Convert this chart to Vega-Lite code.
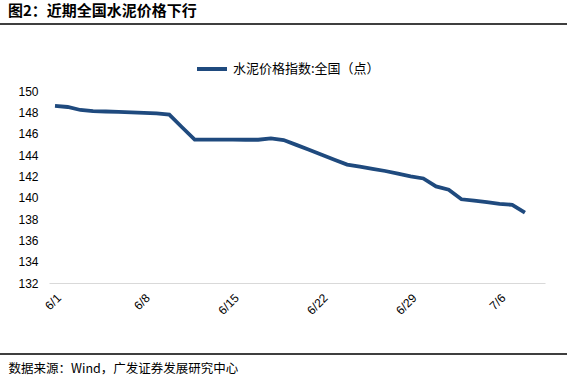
{
  "$schema": "https://vega.github.io/schema/vega-lite/v6.json",
  "width": 571,
  "height": 330,
  "autosize": {"type": "none"},
  "padding": {"left": -2, "right": -2, "top": 24, "bottom": 27},
  "background": "white",
  "config": {
    "view": {"stroke": "#000000", "strokeWidth": 1.5},
    "font": "Liberation Sans"
  },
  "title": {
    "text": "图2：近期全国水泥价格下行",
    "anchor": "start",
    "frame": "group",
    "dx": 10,
    "offset": 5,
    "fontSize": 15,
    "fontWeight": "bold",
    "font": "Noto Sans CJK SC",
    "color": "#000000"
  },
  "data": {
    "values": [
      {"date": "2020-06-01", "value": 148.6, "series": "水泥价格指数:全国（点）"},
      {"date": "2020-06-02", "value": 148.5, "series": "水泥价格指数:全国（点）"},
      {"date": "2020-06-03", "value": 148.22, "series": "水泥价格指数:全国（点）"},
      {"date": "2020-06-04", "value": 148.12, "series": "水泥价格指数:全国（点）"},
      {"date": "2020-06-05", "value": 148.08, "series": "水泥价格指数:全国（点）"},
      {"date": "2020-06-06", "value": 148.04, "series": "水泥价格指数:全国（点）"},
      {"date": "2020-06-07", "value": 148.0, "series": "水泥价格指数:全国（点）"},
      {"date": "2020-06-08", "value": 147.95, "series": "水泥价格指数:全国（点）"},
      {"date": "2020-06-09", "value": 147.9, "series": "水泥价格指数:全国（点）"},
      {"date": "2020-06-10", "value": 147.78, "series": "水泥价格指数:全国（点）"},
      {"date": "2020-06-11", "value": 146.6, "series": "水泥价格指数:全国（点）"},
      {"date": "2020-06-12", "value": 145.45, "series": "水泥价格指数:全国（点）"},
      {"date": "2020-06-13", "value": 145.45, "series": "水泥价格指数:全国（点）"},
      {"date": "2020-06-14", "value": 145.45, "series": "水泥价格指数:全国（点）"},
      {"date": "2020-06-15", "value": 145.45, "series": "水泥价格指数:全国（点）"},
      {"date": "2020-06-16", "value": 145.43, "series": "水泥价格指数:全国（点）"},
      {"date": "2020-06-17", "value": 145.43, "series": "水泥价格指数:全国（点）"},
      {"date": "2020-06-18", "value": 145.55, "series": "水泥价格指数:全国（点）"},
      {"date": "2020-06-19", "value": 145.4, "series": "水泥价格指数:全国（点）"},
      {"date": "2020-06-20", "value": 144.95, "series": "水泥价格指数:全国（点）"},
      {"date": "2020-06-21", "value": 144.5, "series": "水泥价格指数:全国（点）"},
      {"date": "2020-06-22", "value": 144.02, "series": "水泥价格指数:全国（点）"},
      {"date": "2020-06-23", "value": 143.56, "series": "水泥价格指数:全国（点）"},
      {"date": "2020-06-24", "value": 143.1, "series": "水泥价格指数:全国（点）"},
      {"date": "2020-06-25", "value": 142.9, "series": "水泥价格指数:全国（点）"},
      {"date": "2020-06-26", "value": 142.7, "series": "水泥价格指数:全国（点）"},
      {"date": "2020-06-27", "value": 142.5, "series": "水泥价格指数:全国（点）"},
      {"date": "2020-06-28", "value": 142.25, "series": "水泥价格指数:全国（点）"},
      {"date": "2020-06-29", "value": 142.0, "series": "水泥价格指数:全国（点）"},
      {"date": "2020-06-30", "value": 141.8, "series": "水泥价格指数:全国（点）"},
      {"date": "2020-07-01", "value": 141.05, "series": "水泥价格指数:全国（点）"},
      {"date": "2020-07-02", "value": 140.75, "series": "水泥价格指数:全国（点）"},
      {"date": "2020-07-03", "value": 139.85, "series": "水泥价格指数:全国（点）"},
      {"date": "2020-07-04", "value": 139.72, "series": "水泥价格指数:全国（点）"},
      {"date": "2020-07-05", "value": 139.58, "series": "水泥价格指数:全国（点）"},
      {"date": "2020-07-06", "value": 139.42, "series": "水泥价格指数:全国（点）"},
      {"date": "2020-07-07", "value": 139.33, "series": "水泥价格指数:全国（点）"},
      {"date": "2020-07-08", "value": 138.6, "series": "水泥价格指数:全国（点）"}
    ]
  },
  "mark": {"type": "line", "strokeWidth": 3.8, "clip": false},
  "encoding": {
    "x": {
      "field": "date",
      "type": "temporal",
      "scale": {
        "type": "utc",
        "domain": [
          {"year": 2020, "month": 5, "date": 31, "hours": 12, "minutes": 40, "utc": true},
          {"year": 2020, "month": 7, "date": 9, "hours": 13, "minutes": 55, "utc": true}
        ],
        "range": [51, 547]
      },
      "axis": {
        "orient": "bottom",
        "offset": -71,
        "values": [
          {"year": 2020, "month": 6, "date": 1, "utc": true},
          {"year": 2020, "month": 6, "date": 8, "utc": true},
          {"year": 2020, "month": 6, "date": 15, "utc": true},
          {"year": 2020, "month": 6, "date": 22, "utc": true},
          {"year": 2020, "month": 6, "date": 29, "utc": true},
          {"year": 2020, "month": 7, "date": 6, "utc": true}
        ],
        "format": "%-m/%-d",
        "labelAngle": -45,
        "labelFontSize": 12,
        "labelColor": "#000000",
        "labelPadding": 9,
        "ticks": false,
        "grid": false,
        "domainColor": "#d9d9d9",
        "domainWidth": 1,
        "title": "数据来源：Wind，广发证券发展研究中心",
        "titleAnchor": "start",
        "titleAlign": "left",
        "titleBaseline": "middle",
        "titleX": 10,
        "titleY": 85,
        "titleFont": "Noto Sans CJK SC",
        "titleFontSize": 12.5,
        "titleFontWeight": "normal",
        "titleColor": "#000000"
      }
    },
    "y": {
      "field": "value",
      "type": "quantitative",
      "scale": {"domain": [132, 150], "range": [259, 67], "zero": false, "nice": false},
      "axis": {
        "orient": "left",
        "offset": -51,
        "values": [132, 134, 136, 138, 140, 142, 144, 146, 148, 150],
        "domain": false,
        "ticks": false,
        "grid": false,
        "labelPadding": 11,
        "labelFontSize": 12,
        "labelColor": "#000000",
        "title": null
      }
    },
    "color": {
      "field": "series",
      "type": "nominal",
      "scale": {"range": ["#1F4A7E"]},
      "legend": {
        "orient": "none",
        "legendX": 197,
        "legendY": 28,
        "title": null,
        "symbolType": "stroke",
        "symbolSize": 900,
        "symbolStrokeWidth": 4,
        "labelFontSize": 13,
        "labelFont": "Noto Sans CJK SC",
        "labelColor": "#000000",
        "labelOffset": 4
      }
    }
  }
}
